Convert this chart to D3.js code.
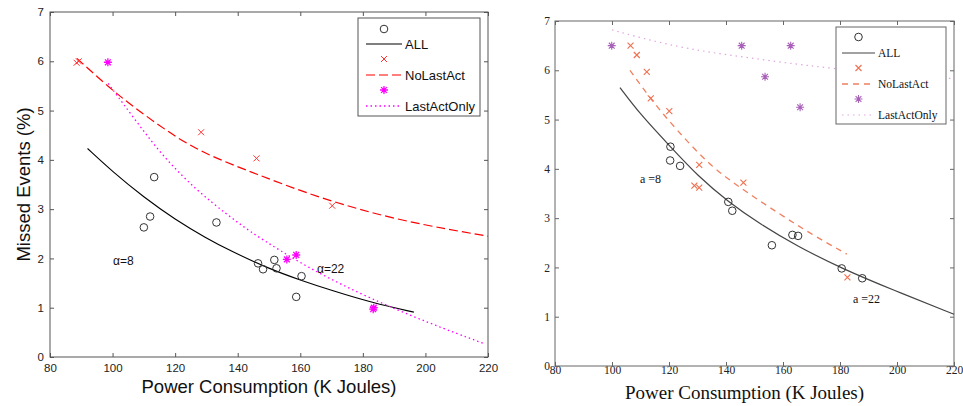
<!DOCTYPE html>
<html>
<head>
<meta charset="utf-8">
<script src="https://cdn.jsdelivr.net/npm/d3@7"></script>
<style>
  body { margin: 0; background: #fff; }
  svg { display: block; }
</style>
</head>
<body>
<script>
var w = 963;
var h = 406;

// tick values (shared by both panels)
var xTicks = [80, 100, 120, 140, 160, 180, 200, 220];
var yTicks = [0, 1, 2, 3, 4, 5, 6, 7];
var seriesNames = ["ALL", "NoLastAct", "LastActOnly"];

// ---- left panel data ----
var leftAllPts = [[110, 2.63], [112, 2.85], [113.3, 3.65], [133.2, 2.73], [146.5, 1.9],
                  [148.1, 1.78], [151.7, 1.97], [152.4, 1.8], [158.7, 1.22], [160.4, 1.64]];
var leftAllFit = [[92, 4.23], [100, 3.76], [110, 3.24], [120, 2.79], [130, 2.41], [137.5, 2.16],
                  [150, 1.79], [160, 1.56], [170, 1.35], [183, 1.1], [196.3, 0.91]];
var leftNoLastPts = [[88.5, 5.97], [89.2, 6.0], [128.3, 4.56], [146, 4.03], [170.2, 3.07]];
var leftNoLastFit = [[88.6, 6.06], [99.2, 5.45], [106.6, 5.08], [117, 4.6], [127.9, 4.16], [146, 3.71],
                     [166.3, 3.22], [191.8, 2.76], [220, 2.45]];
var leftLastOnlyPts = [[98.5, 5.98], [155.7, 1.98], [158.7, 2.07], [183.3, 0.97], [183.5, 1.0]];
var leftLastOnlyFit = [[98.6, 5.55], [107.7, 4.77], [116.2, 4.06], [126.9, 3.38], [136.4, 2.9],
                       [144, 2.54], [153.5, 2.16], [165.2, 1.72], [182.2, 1.19], [201.4, 0.68], [218.4, 0.28]];

// ---- right panel data ----
var rightAllPts = [[120.5, 4.45], [120.4, 4.17], [123.9, 4.06], [140.8, 3.33], [142.2, 3.15],
                   [156.1, 2.45], [163.3, 2.66], [165.3, 2.64], [180.6, 1.98], [187.8, 1.78]];
var rightAllFit = [[102.8, 5.65], [110, 5.1], [120.5, 4.45], [130, 3.86], [140.8, 3.33], [151.9, 2.88],
                   [165, 2.43], [180.6, 1.98], [198.7, 1.54], [220, 1.05]];
var rightNoLastPts = [[106.5, 6.5], [108.7, 6.31], [112.2, 5.97], [113.6, 5.43], [120.1, 5.17],
                      [130.6, 4.08], [128.9, 3.66], [130.6, 3.62], [146.1, 3.72], [182.6, 1.8]];
var rightNoLastFit = [[106.3, 6.0], [114, 5.38], [122.7, 4.79], [134.4, 4.06], [146.1, 3.57],
                      [158.9, 3.08], [169.5, 2.69], [182.4, 2.27]];
var rightLastOnlyPts = [[99.9, 6.5], [145.5, 6.5], [162.7, 6.5], [153.7, 5.87], [166, 5.25]];
var rightLastOnlyFit = [[100, 6.82], [115, 6.58], [131, 6.39], [145, 6.28], [166, 6.11],
                        [190, 5.96], [220, 5.83]];

var svg = d3.select("body")
            .append("svg")
            .attr("width", w)
            .attr("height", h);

function marker(g, type, cx, cy, color, sw) {
    if (type == "circle") {
        g.append("circle").attr("cx", cx).attr("cy", cy).attr("r", 3.8)
            .attr("fill", "none").attr("stroke", color).attr("stroke-width", sw);
    } else if (type == "x") {
        var s = 3;
        g.append("path")
            .attr("d", "M" + (cx - s) + "," + (cy - s) + "L" + (cx + s) + "," + (cy + s) +
                       "M" + (cx - s) + "," + (cy + s) + "L" + (cx + s) + "," + (cy - s))
            .attr("stroke", color).attr("stroke-width", sw);
    } else {
        var r = 4, d = 2.9;
        g.append("path")
            .attr("d", "M" + cx + "," + (cy - r) + "L" + cx + "," + (cy + r) +
                       "M" + (cx - r) + "," + cy + "L" + (cx + r) + "," + cy +
                       "M" + (cx - d) + "," + (cy - d) + "L" + (cx + d) + "," + (cy + d) +
                       "M" + (cx - d) + "," + (cy + d) + "L" + (cx + d) + "," + (cy - d))
            .attr("stroke", color).attr("stroke-width", sw);
    }
}

function drawPanel(cfg) {
    var g = svg.append("g");

    var x = d3.scaleLinear().domain([80, 220]).range([cfg.left, cfg.right]);
    var y = d3.scaleLinear().domain([0, 7]).range([cfg.bottom, cfg.top]);

    // axes with inward ticks on all four sides
    var axes = [
        [d3.axisBottom(x).tickValues(xTicks), "translate(0," + cfg.bottom + ")", true, cfg.xPad],
        [d3.axisTop(x).tickValues(xTicks), "translate(0," + cfg.top + ")", false, 0],
        [d3.axisLeft(y).tickValues(yTicks), "translate(" + cfg.left + ",0)", true, cfg.yPad],
        [d3.axisRight(y).tickValues(yTicks), "translate(" + cfg.right + ",0)", false, 0]
    ];
    axes.forEach(function(a) {
        var ax = g.append("g")
            .attr("transform", a[1])
            .call(a[0].tickSize(-4).tickPadding(a[3]).tickFormat(d3.format("d")));
        ax.select(".domain").remove();
        ax.selectAll("line").attr("stroke", cfg.axisColor);
        ax.selectAll("text")
            .attr("font-family", cfg.font)
            .attr("font-size", cfg.tickSize)
            .attr("fill", "#222");
        if (!a[2]) ax.selectAll("text").remove();
    });

    g.append("rect")
        .attr("x", cfg.left).attr("y", cfg.top)
        .attr("width", cfg.right - cfg.left).attr("height", cfg.bottom - cfg.top)
        .attr("fill", "none").attr("stroke", cfg.axisColor).attr("stroke-width", 1);

    var line = d3.line()
        .x(function(d) { return x(d[0]); })
        .y(function(d) { return y(d[1]); })
        .curve(d3.curveBasis);

    // fitted curves
    cfg.series.forEach(function(s) {
        g.append("path")
            .datum(s.fit)
            .attr("d", line)
            .attr("fill", "none")
            .attr("stroke", s.lineColor)
            .attr("stroke-width", s.lineWidth)
            .attr("stroke-dasharray", s.dash);
    });

    // measured points
    cfg.series.forEach(function(s) {
        s.pts.forEach(function(p) {
            marker(g, s.marker, x(p[0]), y(p[1]), s.markColor, s.markWidth);
        });
    });

    // alpha labels
    cfg.notes.forEach(function(n) {
        g.append("text")
            .attr("x", n.x).attr("y", n.y)
            .attr("font-family", cfg.font)
            .attr("font-size", cfg.noteSize)
            .attr("fill", "#111")
            .text(n.text);
    });

    // x axis title
    g.append("text")
        .attr("x", (cfg.left + cfg.right) / 2 + cfg.titleShift)
        .attr("y", cfg.titleY)
        .attr("text-anchor", "middle")
        .attr("font-family", cfg.font)
        .attr("font-size", cfg.titleSize)
        .attr("fill", "#111")
        .text("Power Consumption (K Joules)");

    if (cfg.yTitle) {
        g.append("text")
            .attr("transform", "translate(" + cfg.yTitleX + "," + (cfg.top + cfg.bottom) / 2 + ") rotate(-90)")
            .attr("text-anchor", "middle")
            .attr("font-family", cfg.font)
            .attr("font-size", cfg.titleSize)
            .attr("fill", "#111")
            .text(cfg.yTitle);
    }

    // legend
    var L = cfg.legend;
    g.append("rect")
        .attr("x", L.x0).attr("y", L.y0)
        .attr("width", L.x1 - L.x0).attr("height", L.y1 - L.y0)
        .attr("fill", "#fff").attr("stroke", cfg.axisColor).attr("stroke-width", 1);
    cfg.series.forEach(function(s, i) {
        var my = L.rows[i * 2];
        var ly = L.rows[i * 2 + 1];
        marker(g, s.marker, (L.lx0 + L.lx1) / 2, my, s.markColor, s.markWidth);
        g.append("line")
            .attr("x1", L.lx0).attr("x2", L.lx1)
            .attr("y1", ly).attr("y2", ly)
            .attr("stroke", s.lineColor)
            .attr("stroke-width", s.lineWidth)
            .attr("stroke-dasharray", s.dash);
        g.append("text")
            .attr("x", L.tx).attr("y", ly)
            .attr("dy", "0.35em")
            .attr("font-family", cfg.font)
            .attr("font-size", L.size)
            .attr("fill", "#111")
            .text(seriesNames[i]);
    });
}

drawPanel({
    left: 50, right: 488, top: 12, bottom: 357,
    font: "'Liberation Sans', Arial, sans-serif",
    axisColor: "#555", tickSize: "11.5px", xPad: 7, yPad: 6,
    titleSize: "18.5px", titleY: 393, titleShift: 0,
    yTitle: "Missed Events (%)", yTitleX: 30,
    noteSize: "12px",
    notes: [{x: 113, y: 265, text: "\u03b1=8"}, {x: 317, y: 273, text: "\u03b1=22"}],
    series: [
        {pts: leftAllPts, fit: leftAllFit, marker: "circle", markColor: "#333", markWidth: 1,
         lineColor: "#000", lineWidth: 1.1, dash: null},
        {pts: leftNoLastPts, fit: leftNoLastFit, marker: "x", markColor: "#f33", markWidth: 1,
         lineColor: "#f00", lineWidth: 1.2, dash: "9,4"},
        {pts: leftLastOnlyPts, fit: leftLastOnlyFit, marker: "star", markColor: "#f0f", markWidth: 1.3,
         lineColor: "#f0f", lineWidth: 1.3, dash: "1.5,3"}
    ],
    legend: {x0: 358, x1: 480, y0: 18, y1: 116, rows: [29, 44, 59, 75, 90, 106],
             lx0: 366, lx1: 402, tx: 405, size: "13px"}
});

drawPanel({
    left: 555, right: 954, top: 21, bottom: 366,
    font: "'Liberation Serif', 'Times New Roman', serif",
    axisColor: "#666", tickSize: "11.5px", xPad: 0, yPad: 5,
    titleSize: "19px", titleY: 399, titleShift: -10,
    yTitle: null,
    noteSize: "12px",
    notes: [{x: 640, y: 183, text: "a =8"}, {x: 853, y: 303, text: "a =22"}],
    series: [
        {pts: rightAllPts, fit: rightAllFit, marker: "circle", markColor: "#333", markWidth: 1,
         lineColor: "#444", lineWidth: 1.2, dash: null},
        {pts: rightNoLastPts, fit: rightNoLastFit, marker: "x", markColor: "#f07050", markWidth: 1.1,
         lineColor: "#f08060", lineWidth: 1.3, dash: "6,5"},
        {pts: rightLastOnlyPts, fit: rightLastOnlyFit, marker: "star", markColor: "#a860b8", markWidth: 1.1,
         lineColor: "#e0a8e0", lineWidth: 1.2, dash: "1.5,4"}
    ],
    legend: {x0: 836, x1: 946, y0: 27, y1: 124, rows: [37, 53, 68, 84, 99, 115],
             lx0: 842, lx1: 875, tx: 878, size: "11.5px"}
});
</script>
</body>
</html>
